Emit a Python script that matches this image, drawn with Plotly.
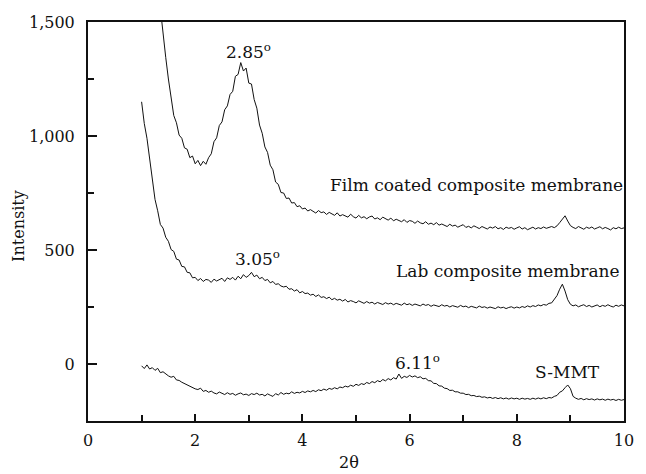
import numpy as np
import plotly.graph_objects as go

# 2-theta sampling grids (degrees)
film_start, lab_start, smmt_start, step = 1.35, 1.00, 1.00, 0.05

film_intensity = [
    1560, 1440, 1345, 1250, 1168, 1090, 1058, 1004, 990, 948,
    942, 905, 912, 878, 893, 870, 889, 876, 905, 922,
    975, 992, 1046, 1062, 1115, 1132, 1182, 1196, 1262, 1270,
    1322, 1285, 1298, 1232, 1228, 1160, 1122, 1048, 1012, 952,
    928, 872, 852, 798, 788, 752, 750, 726, 728, 706,
    708, 690, 694,
    680, 684, 671, 677, 668, 662, 673, 664, 667, 656,
    665, 660, 652, 663, 649, 655, 651, 644, 657, 646,
    640, 652, 641, 646, 637, 645, 649, 636, 641, 633,
    644, 638, 631, 640, 628, 635, 630, 624, 633, 621,
    629, 626, 617, 627, 619, 615, 624, 613, 618, 611,
    620, 609, 614, 610, 603, 613, 605, 609, 600, 606,
    611, 599, 604, 597, 606, 600, 594, 603, 598, 592,
    601, 596, 603, 593, 598, 590, 600, 595, 599, 591,
    597, 602, 592, 598, 589, 596, 600, 592, 598, 594,
    601, 595, 599, 603, 598, 606, 620, 637, 650, 627,
    607, 599, 594, 603, 596, 591, 600, 595, 601, 592,
    597, 602, 593, 599, 594, 588, 598, 593, 600, 594,
    597,
]

lab_intensity = [
    1150, 1055, 990, 895, 808, 722, 672, 612, 596, 556,
    538, 502, 494, 460, 456, 428, 426, 402, 400, 378,
    380, 366, 375, 362, 371, 368, 358, 372, 364, 369,
    376, 362, 378, 371, 380, 368, 385, 374, 392, 380,
    388, 402, 383, 390, 374, 380, 366, 371, 356, 362,
    349, 352, 342, 338, 341, 328, 330, 320, 326, 312,
    318, 309, 311, 302, 306, 296, 303, 292, 295, 287,
    293, 282, 288, 280, 284, 276, 283, 272, 278, 274,
    268, 277, 270, 266, 274, 267, 271, 263, 270, 265,
    261, 269, 263, 267, 260, 266, 262, 258, 267, 260,
    264, 257, 263, 259, 255, 263, 257, 261, 253, 259,
    256, 252, 260, 254, 257, 250, 256, 253, 249, 257,
    251, 254, 247, 253, 250, 246, 254, 248, 251, 245,
    250, 247, 243, 251, 246, 249, 243, 248, 251, 245,
    250, 246, 252, 248, 255, 250, 256, 252, 259, 255,
    261, 258, 266, 268, 282, 300, 328, 350, 320, 282,
    262, 255, 259, 251, 256, 260, 252, 257, 250, 256,
    259, 251, 257, 253, 260, 254, 250, 258, 253, 259,
    255,
]

smmt_intensity = [
    -8, -20, -4, -22, -16, -28, -19, -38, -34, -44,
    -52, -58, -54, -70, -72, -80, -86, -92, -97, -101,
    -109, -112, -106, -120, -116, -124, -119, -127, -131, -123,
    -130, -134, -126, -133, -129, -137, -131, -127, -135, -132,
    -138, -130, -134, -128, -136, -133, -140, -131, -137, -142,
    -130, -136, -125, -133, -128, -131, -122, -129, -124, -127,
    -120, -125, -118, -122, -116, -121, -113, -117, -110, -115,
    -107, -111, -104, -109, -101, -104, -97, -101, -93, -98,
    -89, -94, -86, -90, -81, -86, -77, -82, -73, -78,
    -68, -74, -64, -70, -60, -66, -44, -63, -54, -59,
    -50, -57, -52, -60, -56, -65, -63, -73, -74, -85,
    -86, -96, -97, -106, -108, -116, -115, -122, -122, -128,
    -128, -134, -133, -139, -138, -143, -141, -146, -144, -149,
    -146, -151, -147, -152, -148, -153, -149, -154, -149, -153,
    -150, -155, -150, -154, -151, -155, -150, -154, -149, -153,
    -148, -152, -147, -149, -142, -138, -124, -118, -104, -92,
    -108, -142, -150, -155, -151, -157, -152, -156, -153, -158,
    -153, -157, -154, -159, -154, -158, -155, -160, -155, -159,
    -156,
]

x_tick_vals = [0, 2, 4, 6, 8, 10]
y_tick_vals = [0, 500, 1000, 1500]
y_tick_text = ["0", "500", "1,000", "1,500"]

labels = [
    ("2.85<sup>o</sup>", 2.99, 1372),
    ("3.05<sup>o</sup>", 3.17, 464),
    ("6.11<sup>o</sup>", 6.15, 7),
    ("Film coated composite membrane", 7.25, 784),
    ("Lab composite membrane", 7.84, 407),
    ("S-MMT", 8.94, -36),
]

def grid(start, n):
    return np.round(start + step * np.arange(n), 3)

FONT = "DejaVu Serif"
INK = "#111111"

fig = go.Figure()
for start, vals in [(film_start, film_intensity), (lab_start, lab_intensity), (smmt_start, smmt_intensity)]:
    fig.add_trace(go.Scatter(
        x=grid(start, len(vals)), y=vals, mode="lines",
        line=dict(color=INK, width=1), showlegend=False,
    ))

for text, x, y in labels:
    fig.add_annotation(x=x, y=y, xref="x", yref="y", text=text, showarrow=False,
                       font=dict(family=FONT, size=17, color=INK),
                       xanchor="center", yanchor="middle")

fig.add_annotation(xref="paper", yref="paper", x=0.487, y=0, text="2θ", showarrow=False,
                   yanchor="middle", yshift=-41, font=dict(family=FONT, size=16, color=INK))
fig.add_annotation(xref="paper", yref="paper", x=0, y=0.489, text="Intensity", showarrow=False,
                   textangle=-90, xanchor="center", yanchor="middle", xshift=-69,
                   font=dict(family=FONT, size=16, color=INK))

axis_common = dict(showline=True, linewidth=2, linecolor=INK, mirror=True,
                   ticks="inside", tickwidth=1.5, tickcolor=INK, showgrid=False,
                   zeroline=False, tickfont=dict(family=FONT, size=16, color=INK))

fig.update_xaxes(range=[0, 10], tickvals=x_tick_vals, ticklen=7,
                 minor=dict(dtick=1, ticks="inside", ticklen=6, tickwidth=1.5, tickcolor=INK),
                 ticklabelstandoff=4, **axis_common)
fig.update_yaxes(range=[-250, 1500], tickvals=y_tick_vals, ticktext=y_tick_text, ticklen=9,
                 minor=dict(dtick=250, ticks="inside", ticklen=6, tickwidth=1.5, tickcolor=INK),
                 ticklabelstandoff=8, **axis_common)

fig.update_layout(width=646, height=474, margin=dict(l=88, r=12, t=22, b=53),
                  plot_bgcolor="white", paper_bgcolor="white",
                  font=dict(family=FONT, color=INK))

fig.write_html("out.html")
